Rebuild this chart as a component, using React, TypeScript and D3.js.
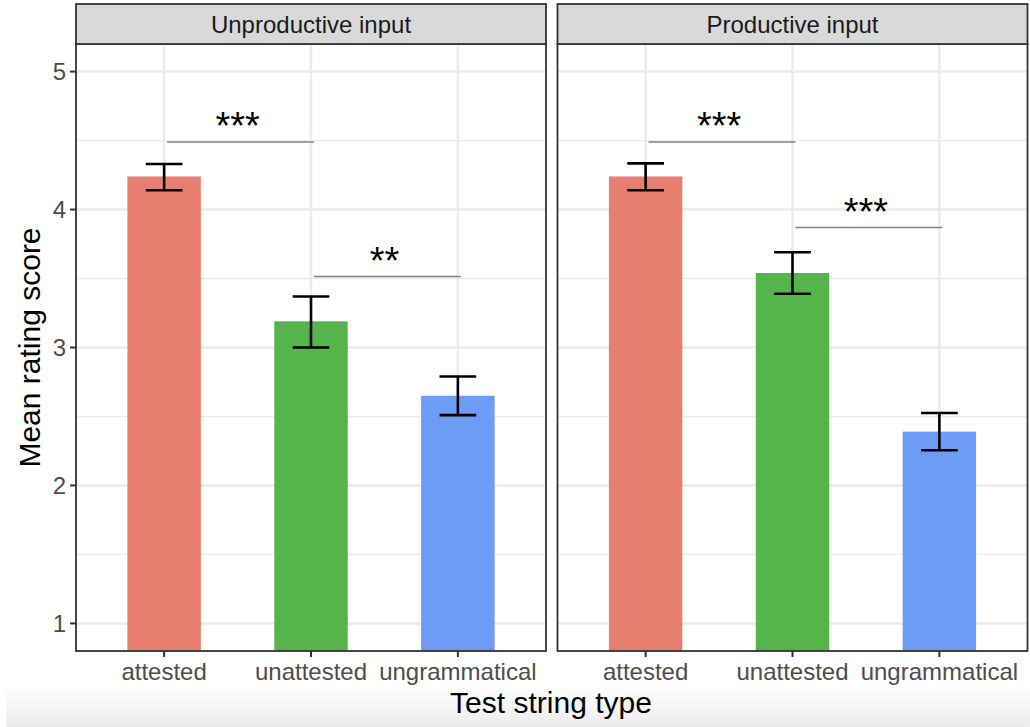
import React from "react";
import * as d3 from "d3";

const panels = ["Unproductive input", "Productive input"];
const categories = ["attested", "unattested", "ungrammatical"];
const colors = ["#E77F71", "#55B54B", "#6C9CF6"];

const unproductiveMeans = [4.24, 3.19, 2.65];
const unproductiveLower = [4.14, 3.0, 2.51];
const unproductiveUpper = [4.33, 3.37, 2.79];

const productiveMeans = [4.24, 3.54, 2.39];
const productiveLower = [4.14, 3.39, 2.255];
const productiveUpper = [4.335, 3.69, 2.525];

// significance brackets: [from category index, to category index, y, label]
const unproductiveSig = [
  { from: 0, to: 1, y: 4.49, label: "***" },
  { from: 1, to: 2, y: 3.515, label: "**" },
];
const productiveSig = [
  { from: 0, to: 1, y: 4.49, label: "***" },
  { from: 1, to: 2, y: 3.87, label: "***" },
];

const yTicks = [1, 2, 3, 4, 5];
const yMinor = [1.5, 2.5, 3.5, 4.5];

const panelData = [
  { means: unproductiveMeans, lower: unproductiveLower, upper: unproductiveUpper, sig: unproductiveSig },
  { means: productiveMeans, lower: productiveLower, upper: productiveUpper, sig: productiveSig },
];

const W = 1030;
const H = 727;
const FONT = "'Liberation Sans', Arial, Helvetica, sans-serif";

export default function App() {
  const panelTop = 44;
  const panelBottom = 651;
  const stripTop = 4;
  const panelX = [
    [76, 546],
    [557.5, 1027.5],
  ];
  const y = d3.scaleLinear().domain([0.8, 5.2]).range([panelBottom, panelTop]);

  return (
    <svg
      width={W}
      height={H}
      style={{ position: "absolute", left: 0, top: 0, background: "#fff" }}
      fontFamily={FONT}
    >
      <defs>
        <linearGradient id="bottomShade" x1="0" y1="0" x2="0" y2="1">
          <stop offset="0" stopColor="#ffffff" />
          <stop offset="1" stopColor="#ebebeb" />
        </linearGradient>
        {panelX.map(([x0, x1], pi) => (
          <clipPath id={`clip${pi}`} key={pi}>
            <rect x={x0} y={panelTop} width={x1 - x0} height={panelBottom - panelTop} />
          </clipPath>
        ))}
      </defs>
      <rect x={6} y={686} width={W - 6} height={H - 686} fill="url(#bottomShade)" />

      {panelData.map((pd, pi) => {
        const [x0, x1] = panelX[pi];
        const x = d3
          .scaleLinear()
          .domain([0.4, 3.6])
          .range([x0, x1]);
        const cx = (i: number) => x(i + 1);
        const barW = x(1.5) - x(1);
        const capW = x(1.25) - x(1);
        return (
          <g key={pi}>
            {/* grid */}
            <g clipPath={`url(#clip${pi})`}>
              {yMinor.map((v) => (
                <line key={"m" + v} x1={x0} x2={x1} y1={y(v)} y2={y(v)} stroke="#EBEBEB" strokeWidth={1.3} />
              ))}
              {yTicks.map((v) => (
                <line key={"M" + v} x1={x0} x2={x1} y1={y(v)} y2={y(v)} stroke="#EBEBEB" strokeWidth={2.5} />
              ))}
              {categories.map((c, i) => (
                <line key={c} x1={cx(i)} x2={cx(i)} y1={panelTop} y2={panelBottom} stroke="#EBEBEB" strokeWidth={2.5} />
              ))}
              {/* bars */}
              {pd.means.map((m, i) => (
                <rect
                  key={"b" + i}
                  x={cx(i) - barW / 2}
                  y={y(m)}
                  width={barW}
                  height={panelBottom - y(m)}
                  fill={colors[i]}
                />
              ))}
              {/* error bars */}
              {pd.means.map((m, i) => (
                <g key={"e" + i} stroke="#000" strokeWidth={2.6}>
                  <line x1={cx(i)} x2={cx(i)} y1={y(pd.upper[i])} y2={y(pd.lower[i])} />
                  <line x1={cx(i) - capW / 2} x2={cx(i) + capW / 2} y1={y(pd.upper[i])} y2={y(pd.upper[i])} />
                  <line x1={cx(i) - capW / 2} x2={cx(i) + capW / 2} y1={y(pd.lower[i])} y2={y(pd.lower[i])} />
                </g>
              ))}
              {/* significance */}
              {pd.sig.map((s, k) => (
                <g key={"s" + k}>
                  <line
                    x1={x(s.from + 1.02)}
                    x2={x(s.to + 1.02)}
                    y1={y(s.y)}
                    y2={y(s.y)}
                    stroke="#7D7D9C"
                    strokeWidth={1.6}
                  />
                  <text
                    x={x((s.from + s.to) / 2 + 1)}
                    y={y(s.y) - 2.5}
                    textAnchor="middle"
                    fontSize={38}
                    fill="#000"
                  >
                    {s.label}
                  </text>
                </g>
              ))}
            </g>
            {/* panel border */}
            <rect x={x0} y={panelTop} width={x1 - x0} height={panelBottom - panelTop} fill="none" stroke="#333" strokeWidth={1.8} />
            {/* strip */}
            <rect x={x0} y={stripTop} width={x1 - x0} height={panelTop - stripTop} fill="#D9D9D9" stroke="#333" strokeWidth={1.8} />
            <text x={(x0 + x1) / 2} y={32.5} textAnchor="middle" fontSize={24} fill="#1A1A1A">
              {panels[pi]}
            </text>
            {/* x axis */}
            {categories.map((c, i) => (
              <g key={"xt" + c}>
                <line x1={cx(i)} x2={cx(i)} y1={panelBottom} y2={panelBottom + 6} stroke="#333" strokeWidth={2} />
                <text x={cx(i)} y={680} textAnchor="middle" fontSize={24} fill="#4D4D4D">
                  {c}
                </text>
              </g>
            ))}
          </g>
        );
      })}

      {/* y axis */}
      {yTicks.map((v) => (
        <g key={"yt" + v}>
          <line x1={70} x2={76} y1={y(v)} y2={y(v)} stroke="#333" strokeWidth={2} />
          <text x={66} y={y(v) + 8.5} textAnchor="end" fontSize={24} fill="#4D4D4D">
            {v}
          </text>
        </g>
      ))}

      <text x={551} y={713} textAnchor="middle" fontSize={30} fill="#000">
        Test string type
      </text>
      <text
        transform={`translate(40, ${(panelTop + panelBottom) / 2}) rotate(-90)`}
        textAnchor="middle"
        fontSize={30}
        fill="#000"
      >
        Mean rating score
      </text>
    </svg>
  );
}
